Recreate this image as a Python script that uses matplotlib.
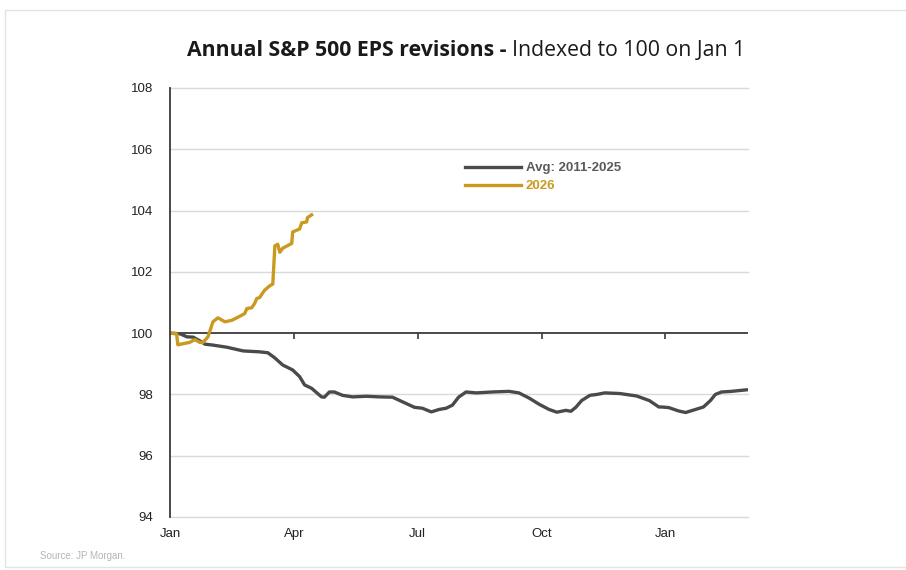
import matplotlib
matplotlib.use("Agg")
import matplotlib.pyplot as plt
from matplotlib.patches import Rectangle
from matplotlib.lines import Line2D

# x in months since Jan 1
avg_x = [0.0, 0.24, 0.41, 0.56, 0.72, 0.85, 1.04, 1.38, 1.77, 2.17, 2.37, 2.54, 2.73, 2.97, 3.14, 3.26, 3.43,
         3.67, 3.74, 3.86, 3.98, 4.18, 4.42, 4.76, 5.07, 5.39, 5.63, 5.92, 6.11, 6.33, 6.52, 6.69, 6.84,
         6.99, 7.17, 7.17, 7.42, 7.80, 8.21, 8.45, 8.70, 8.94, 9.18, 9.37, 9.59, 9.71, 9.83, 9.97, 10.17,
         10.34, 10.53, 10.89, 11.30, 11.61, 11.84, 11.91, 12.08, 12.32, 12.49, 12.73, 12.92, 13.09, 13.21,
         13.36, 13.60, 13.96]
avg_y = [100.0, 99.98, 99.88, 99.87, 99.75, 99.64, 99.61, 99.54, 99.42, 99.39, 99.36, 99.19, 98.96, 98.80,
         98.58, 98.31, 98.20, 97.92, 97.91, 98.08, 98.08, 97.97, 97.92, 97.94, 97.92, 97.91, 97.76, 97.58,
         97.55, 97.43, 97.51, 97.55, 97.65, 97.91, 98.08, 98.08, 98.05, 98.08, 98.10, 98.05, 97.88, 97.68,
         97.51, 97.42, 97.48, 97.45, 97.58, 97.80, 97.97, 98.00, 98.05, 98.03, 97.95, 97.80, 97.59, 97.59,
         97.57, 97.46, 97.41, 97.51, 97.59, 97.80, 98.00, 98.08, 98.10, 98.15]

y26_x = [0.0, 0.16, 0.19, 0.48, 0.60, 0.72, 0.80, 0.92, 1.04, 1.16, 1.33, 1.50, 1.69, 1.81, 1.86, 1.98,
         2.05, 2.10, 2.17, 2.29, 2.42, 2.49, 2.54, 2.61, 2.66, 2.73, 2.95, 2.97, 3.07, 3.14, 3.19, 3.31,
         3.33, 3.43]
y26_y = [100.0, 99.98, 99.62, 99.70, 99.79, 99.70, 99.70, 99.88, 100.37, 100.50, 100.37, 100.42, 100.55,
         100.64, 100.80, 100.83, 100.97, 101.13, 101.16, 101.40, 101.55, 101.60, 102.85, 102.90, 102.64,
         102.77, 102.93, 103.30, 103.36, 103.40, 103.60, 103.63, 103.77, 103.86]

month_ticks = [0, 3, 6, 9, 12]
month_labels = ["Jan", "Apr", "Jul", "Oct", "Jan"]
y_ticks = [94, 96, 98, 100, 102, 104, 106, 108]

gray = "#4a4a4a"
gold = "#C99A1E"

fig = plt.figure(figsize=(9.06, 5.70), dpi=100)
fig.patches.append(Rectangle((5 / 906, 3 / 570), 1.0, 557 / 570, transform=fig.transFigure,
                             fill=False, edgecolor="#e4e4e4", linewidth=1.0))

ax = fig.add_axes([170 / 906, 1 - 517 / 570, 578 / 906, 429 / 570])
ax.set_xlim(0, 14)
ax.set_ylim(94, 108)

for v in y_ticks:
    if v != 100:
        ax.axhline(v, color="#d9d9d9", linewidth=1.0, zorder=0, clip_on=False)
ax.axhline(100, color="#3a3a3a", linewidth=1.3, zorder=1)
ax.vlines(month_ticks[1:], 99.82, 100, color="#3a3a3a", linewidth=1.2, zorder=1)

ax.plot(avg_x, avg_y, color=gray, linewidth=2.4, solid_joinstyle="round", zorder=3)
ax.plot(y26_x, y26_y, color=gold, linewidth=2.4, solid_joinstyle="round", zorder=4)

for s in ["top", "right", "bottom"]:
    ax.spines[s].set_visible(False)
ax.spines["left"].set_color("#3a3a3a")
ax.spines["left"].set_linewidth(1.3)
ax.spines["left"].set_zorder(5)

ax.set_yticks(y_ticks)
ax.set_yticklabels([str(v) for v in y_ticks])
ax.set_xticks(month_ticks)
ax.set_xticklabels(month_labels)
ax.tick_params(axis="both", length=0, labelsize=9.5, colors="#222222")
ax.tick_params(axis="y", pad=12)
ax.tick_params(axis="x", pad=8)
for lab in ax.get_xticklabels() + ax.get_yticklabels():
    lab.set_fontfamily("Liberation Sans")

handles = [Line2D([], [], color=gray, linewidth=2.4), Line2D([], [], color=gold, linewidth=2.4)]
leg = ax.legend(handles, ["Avg: 2011-2025", "2026"], loc="upper left",
                bbox_to_anchor=(0.49, 0.855), frameon=False, handlelength=4.2,
                handletextpad=0.4, labelspacing=0.45,
                prop={"family": "Liberation Sans", "weight": "bold", "size": 9.5})
for t, c in zip(leg.get_texts(), ["#5a5a5a", gold]):
    t.set_color(c)

split = 512 / 906
fig.text(split, 1 - 50 / 570, "Annual S&P 500 EPS revisions - ", ha="right", va="center",
         fontsize=15.3, fontweight="bold", family="Open Sans", color="#1a1a1a")
fig.text(split, 1 - 50 / 570, "Indexed to 100 on Jan 1", ha="left", va="center",
         fontsize=15.3, family="Open Sans", color="#1a1a1a")

fig.text(40 / 906, 1 - 556 / 570, "Source: JP Morgan.", ha="left", va="center",
         fontsize=7, family="Liberation Sans", color="#b5b5b5")

fig.savefig("out.png", dpi=100)
